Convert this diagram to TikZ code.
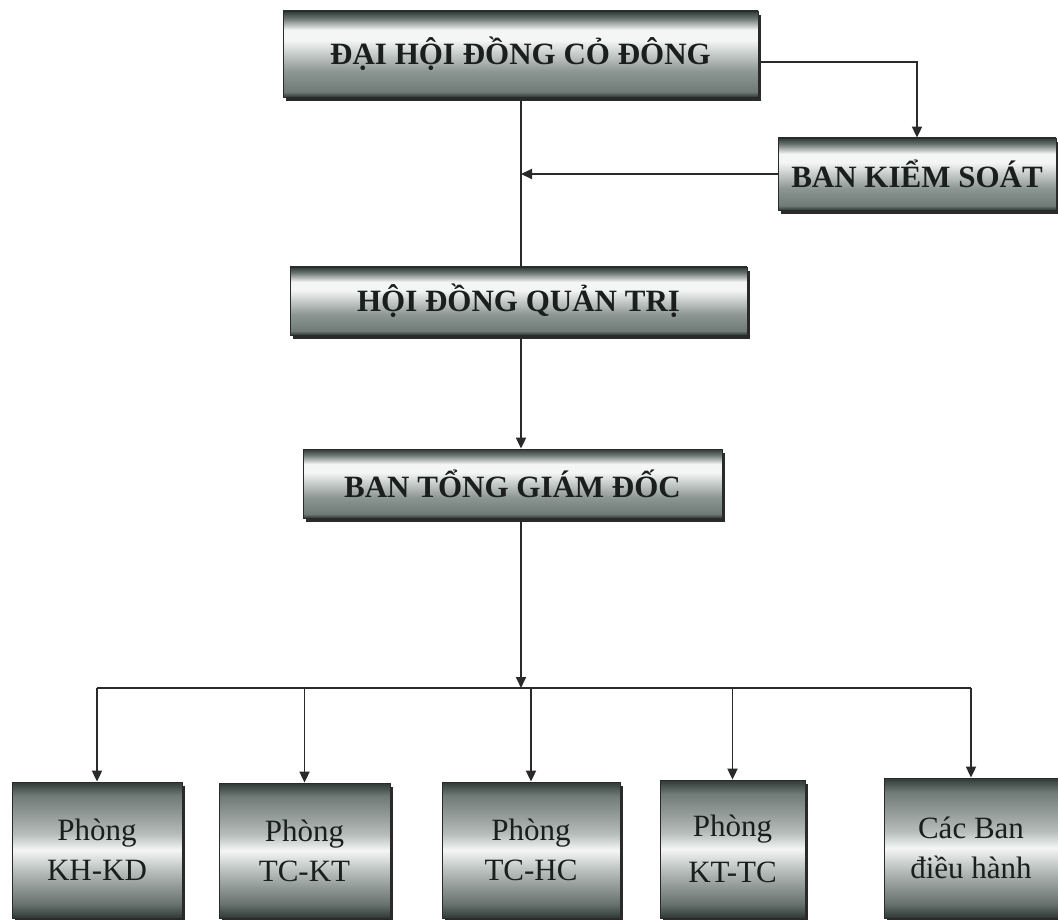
\documentclass[tikz,border=0pt]{standalone}
\usepackage{fontspec}
\setmainfont{Liberation Serif}
\usetikzlibrary{arrows.meta,shadows}
\definecolor{md}{HTML}{2E3835}
\definecolor{mm}{HTML}{8C9693}
\definecolor{ml}{HTML}{F4F6F5}
\definecolor{lc}{HTML}{2A2A2A}
\definecolor{tc}{HTML}{1A1E1D}
\pgfdeclareverticalshading{metalH}{100bp}{color(0bp)=(md); color(25bp)=(md); color(28bp)=(mm!70!md); color(40bp)=(mm); color(58bp)=(ml); color(64bp)=(ml); color(71bp)=(mm!60!md); color(75bp)=(md); color(100bp)=(md)}
\pgfdeclareverticalshading{metalV}{100bp}{color(0bp)=(md); color(25bp)=(md); color(30bp)=(mm!60!md); color(42bp)=(mm!60!ml); color(50bp)=(ml); color(56bp)=(mm!60!ml); color(70bp)=(mm!70!md); color(75bp)=(md); color(100bp)=(md)}
\tikzset{
  boxbase/.style={draw=lc, line width=0.8pt, inner sep=0pt, text=tc,
    drop shadow={shadow xshift=3pt, shadow yshift=-4pt, fill=lc, opacity=1}},
  topbox/.style={boxbase, shade, shading=metalH, font=\fontsize{31}{34}\selectfont\bfseries},
  unitbox/.style={boxbase, shade, shading=metalV, align=center, font=\fontsize{31}{40}\selectfont},
  conn/.style={draw=lc, line width=1.8pt},
  arr/.style={conn, -{Triangle[length=11pt,width=10pt]}}
}
\begin{document}
\begin{tikzpicture}[x=1pt,y=-1pt]
\useasboundingbox (0,0) rectangle (1058,920);
\fill[white] (0,0) rectangle (1058,920);
\coordinate (sp) at (521,0);
\coordinate (bus) at (521,688);

\node[topbox, minimum width=475pt, minimum height=86pt] (dh) at (520.5,54) {ĐẠI HỘI ĐỒNG CỎ ĐÔNG};
\node[topbox, minimum width=278pt, minimum height=72pt] (bks) at (917,174) {BAN KIỂM SOÁT};
\node[topbox, minimum width=457pt, minimum height=68pt] (hd) at (518.5,301) {HỘI ĐỒNG QUẢN TRỊ};
\node[topbox, minimum width=419pt, minimum height=69pt] (bt) at (512.5,483.5) {BAN TỔNG GIÁM ĐỐC};

\node[unitbox, minimum width=170pt, minimum height=136pt] (kh) at (97,850) {Phòng\\KH-KD};
\node[unitbox, minimum width=171pt, minimum height=135pt] (tk) at (304.5,850.5) {Phòng\\TC-KT};
\node[unitbox, minimum width=178pt, minimum height=136pt] (th) at (531,850) {Phòng\\TC-HC};
\node[unitbox, minimum width=145pt, minimum height=138pt, font=\fontsize{31}{46}\selectfont] (kt) at (732.5,849) {Phòng\\KT-TC};
\node[unitbox, minimum width=174pt, minimum height=140pt] (cb) at (971,848) {Các Ban\\điều hành};

% upper connectors
\draw[conn] (dh.south -| sp) -- (hd.north -| sp);
\draw[arr] ([yshift=-8pt]dh.east) -| (bks.north);
\draw[arr] (bks.west) -- (bks.west -| sp);
\draw[arr] (hd.south -| sp) -- (bt.north -| sp);
\draw[arr] (bt.south -| sp) -- (bus);

% bus
\draw[conn] (kh.north |- bus) -- (cb.north |- bus);
\draw[arr] (kh.north |- bus) -- (kh.north);
\draw[arr] (tk.north |- bus) -- (tk.north);
\draw[arr] (th.north |- bus) -- (th.north);
\draw[arr] (kt.north |- bus) -- (kt.north);
\draw[arr] (cb.north |- bus) -- (cb.north);
\end{tikzpicture}
\end{document}
